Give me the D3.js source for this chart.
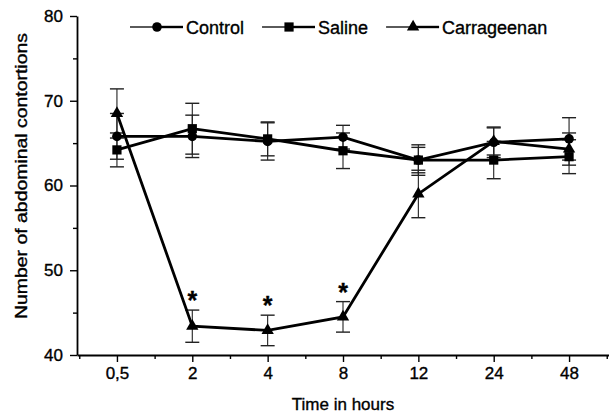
<!DOCTYPE html>
<html>
<head>
<meta charset="utf-8">
<script src="https://cdn.jsdelivr.net/npm/d3@7"></script>
<style>
  html, body { margin: 0; padding: 0; background: #fff; }
  svg { display: block; font-family: "Liberation Sans", Arial, sans-serif; }
  svg text { stroke: #000; stroke-width: 0.35px; }
</style>
</head>
<body>
<div id="chart"></div>
<script>
// data
const timeLabels = ['0,5', '2', '4', '8', '12', '24', '48'];
const controlMean = [65.8, 65.8, 65.2, 65.7, 63.0, 65.1, 65.5];
const controlErr  = [2.7, 2.5, 2.2, 1.4, 1.5, 1.8, 2.5];
const salineMean  = [64.2, 66.7, 65.5, 64.1, 63.0, 63.0, 63.4];
const salineErr   = [2.0, 3.0, 2.0, 2.1, 1.8, 2.2, 2.0];
const carraMean   = [68.5, 43.4, 42.9, 44.5, 59.0, 65.2, 64.3];
const carraErr    = [2.9, 1.9, 1.8, 1.8, 2.8, 1.6, 1.9];
const starIdx     = [1, 2, 3];   // significant points (carrageenan)
const yTicks      = [40, 50, 60, 70, 80];
const yMinor      = [45, 55, 65, 75];

const series = [
  {name: 'Control',     mean: controlMean, err: controlErr, sym: d3.symbolCircle,   size: 72},
  {name: 'Saline',      mean: salineMean,  err: salineErr,  sym: d3.symbolSquare,   size: 85},
  {name: 'Carrageenan', mean: carraMean,   err: carraErr,   sym: d3.symbolTriangle, size: 66}
];

const W = 609, H = 414;
const x0 = 77, x1 = 609, yTop = 16, yBot = 355;

const svg = d3.select('#chart').append('svg')
  .attr('width', W).attr('height', H);

const x = d3.scaleLinear().domain([-0.53, 6.53]).range([x0, x1]);
const y = d3.scaleLinear().domain([40, 80]).range([yBot, yTop]);

// axes
const gx = svg.append('g').attr('transform', `translate(0,${yBot})`);
gx.call(d3.axisBottom(x).tickValues(d3.range(timeLabels.length))
    .tickFormat(i => timeLabels[i]).tickSize(7).tickPadding(5).tickSizeOuter(0));
gx.append('g').call(d3.axisBottom(x).tickValues(d3.range(-0.5, 7, 1))
    .tickFormat('').tickSize(4).tickSizeOuter(0))
  .select('.domain').remove();

const gy = svg.append('g').attr('transform', `translate(${x0},0)`);
gy.call(d3.axisLeft(y).tickValues(yTicks).tickSize(7).tickPadding(7).tickSizeOuter(0));
gy.append('g').call(d3.axisLeft(y).tickValues(yMinor).tickFormat('').tickSize(4).tickSizeOuter(0))
  .select('.domain').remove();

svg.selectAll('.domain').attr('stroke', '#000').attr('stroke-width', 1.8);
svg.selectAll('.tick line').attr('stroke', '#000').attr('stroke-width', 1.4);
svg.selectAll('.tick text').attr('font-size', 17).attr('fill', '#000')
  .attr('font-family', '"Liberation Sans", Arial, sans-serif');

// axis titles
svg.append('text')
  .attr('x', 343).attr('y', 410)
  .attr('text-anchor', 'middle').attr('font-size', 17)
  .text('Time in hours');

svg.append('text')
  .attr('transform', 'translate(27,176) rotate(-90)')
  .attr('text-anchor', 'middle').attr('font-size', 17)
  .attr('textLength', 286).attr('lengthAdjust', 'spacingAndGlyphs')
  .text('Number of abdominal contortions');

// error bars
const plot = svg.append('g');
series.forEach(s => {
  const g = plot.append('g');
  s.mean.forEach((m, i) => {
    const cx = x(i), lo = y(m - s.err[i]), hi = y(m + s.err[i]);
    g.append('line').attr('x1', cx).attr('x2', cx).attr('y1', lo).attr('y2', hi)
      .attr('stroke', '#222').attr('stroke-width', 1.1);
    [lo, hi].forEach(v => g.append('line')
      .attr('x1', cx - 7).attr('x2', cx + 7).attr('y1', v).attr('y2', v)
      .attr('stroke', '#222').attr('stroke-width', 1.4));
  });
});

// lines
const line = d3.line().x((d, i) => x(i)).y(d => y(d));
series.forEach(s => {
  plot.append('path').datum(s.mean)
    .attr('d', line).attr('fill', 'none')
    .attr('stroke', '#000').attr('stroke-width', 2.8);
});

// markers
series.forEach(s => {
  plot.selectAll(null).data(s.mean).enter().append('path')
    .attr('transform', (d, i) => `translate(${x(i)},${y(d)})`)
    .attr('d', d3.symbol().type(s.sym).size(s.size))
    .attr('fill', '#000');
});

// significance stars
plot.selectAll('.star').data(starIdx).enter().append('text')
  .attr('class', 'star')
  .attr('x', i => x(i))
  .attr('y', i => y(carraMean[i] + carraErr[i]) - 1)
  .attr('text-anchor', 'middle')
  .attr('font-size', 25).attr('font-weight', 'bold')
  .text('*');

// legend
const leg = svg.append('g').attr('transform', 'translate(0,27)');
let lx = 130;
series.forEach(s => {
  const g = leg.append('g');
  g.append('line').attr('x1', lx).attr('x2', lx + 27).attr('y1', 0).attr('y2', 0)
    .attr('stroke', '#000').attr('stroke-width', 1.3);
  g.append('line').attr('x1', lx + 27).attr('x2', lx + 53).attr('y1', 0).attr('y2', 0)
    .attr('stroke', '#000').attr('stroke-width', 2.4);
  g.append('path').attr('transform', `translate(${lx + 27},0)`)
    .attr('d', d3.symbol().type(s.sym).size(s.size)).attr('fill', '#000');
  const t = g.append('text').attr('x', lx + 56).attr('y', 7)
    .attr('font-size', 18).text(s.name);
  lx += 56 + t.node().getComputedTextLength() + 18;
});
</script>
</body>
</html>
